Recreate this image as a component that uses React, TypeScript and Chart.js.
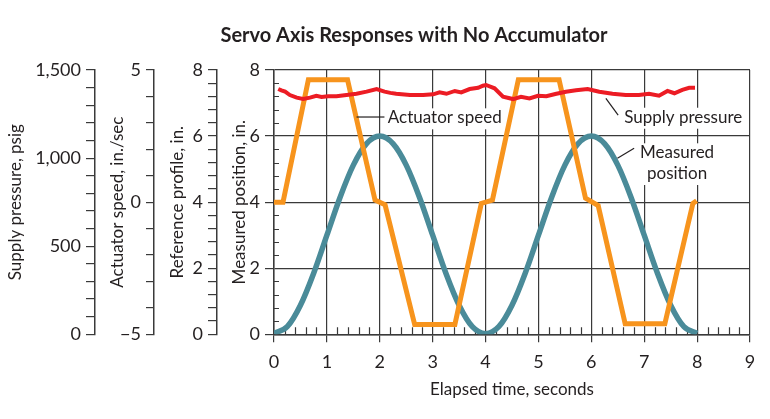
import React, { useEffect, useRef } from 'react';
import { Chart, registerables } from 'chart.js';

Chart.register(...registerables);

// ---------- text ----------
const CHART_TITLE = 'Servo Axis Responses with No Accumulator';
const X_TITLE = 'Elapsed time, seconds';
const SUPPLY_TITLE = 'Supply pressure, psig';
const SPEED_TITLE = 'Actuator speed, in./sec';
const REF_TITLE = 'Reference profile, in.';
const POS_TITLE = 'Measured position, in.';

// ---------- data ----------
// Measured position (in.) vs time (s)
const posTime = [0, 0.25, 0.5, 0.75, 1, 1.25, 1.5, 1.75, 2, 2.25, 2.5, 2.75, 3, 3.25, 3.5, 3.75, 4,
  4.25, 4.5, 4.75, 5, 5.25, 5.5, 5.75, 6, 6.25, 6.5, 6.75, 7, 7.25, 7.5, 7.75, 8];
const posValues = [0.03, 0.23, 0.88, 1.85, 3.0, 4.15, 5.12, 5.77, 6.0, 5.77, 5.12, 4.15, 3.0, 1.85, 0.88, 0.23, 0.02,
  0.23, 0.88, 1.85, 3.0, 4.15, 5.12, 5.77, 6.0, 5.77, 5.12, 4.15, 3.0, 1.85, 0.88, 0.23, 0.03];

// Actuator speed (in./sec) vs time (s)
const speedTime = [0, 0.17, 0.65, 1.39, 1.91, 2.1, 2.66, 3.42, 3.92, 4.13, 4.62, 5.39, 5.89, 6.13, 6.64, 7.39, 7.92, 7.99];
const speedValues = [0, 0, 4.63, 4.63, 0.08, -0.1, -4.63, -4.63, -0.05, 0.08, 4.63, 4.63, 0.15, -0.13, -4.6, -4.6, -0.05, 0.05];

// Supply pressure (psig) vs time (s)
const pressureTime = [0.08, 0.14, 0.21, 0.3, 0.43, 0.55, 0.68, 0.8, 0.9, 1.02, 1.18, 1.37, 1.56, 1.75, 1.94, 2.09, 2.2, 2.31,
  2.57, 2.82, 3.01, 3.13, 3.26, 3.42, 3.54, 3.7, 3.86, 3.95, 4.01, 4.17, 4.33, 4.52, 4.67, 4.83, 4.99, 5.15,
  5.34, 5.52, 5.71, 5.93, 6.15, 6.4, 6.65, 6.9, 7.09, 7.28, 7.44, 7.57, 7.72, 7.85, 7.96];
const pressureValues = [1392, 1384, 1377, 1358, 1343, 1335, 1343, 1354, 1347, 1351, 1351, 1358, 1365, 1377, 1392, 1377, 1370, 1365,
  1358, 1358, 1362, 1373, 1365, 1381, 1373, 1392, 1399, 1411, 1415, 1396, 1348, 1335, 1348, 1339, 1354, 1351,
  1365, 1377, 1385, 1392, 1377, 1365, 1358, 1358, 1365, 1354, 1381, 1368, 1387, 1399, 1399];

// Tick label sets
const xTicks = { min: 0, max: 9, step: 1, minorStep: 0.2 };
const posTicks = { min: 0, max: 8, step: 2, minorStep: 0.4 };
const refTicks = { min: 0, max: 8, step: 0.4, labelEvery: 2 };
const speedTicks = { min: -5, max: 5, step: 1, labels: [-5, 0, 5] };
const supplyTicks = { min: 0, max: 1500, step: 100, labelEvery: 500 };

// Annotations (data units on x / measured-position axis)
const annotationTexts = [['Actuator speed'], ['Supply pressure'], ['Measured', 'position']];
const annotationAnchors = [[2.152, 6.386], [6.621, 6.404], [7.621, 5.327]];
const annotationAligns = ['left', 'left', 'center'];
const leaderLines = [
  [[1.561, 6.577], [2.09, 6.577]],
  [[6.275, 7.143], [6.507, 6.637]],
  [[6.494, 5.327], [6.809, 5.63]],
];

// ---------- styles ----------
const FONT = 'Lato';
const TEXT = '#231f20';
const GRID = '#3a3a3a';
const RED = '#ec1c24';
const ORANGE = '#f7941d';
const TEAL = '#4a8b99';

const decorPlugin = {
  id: 'decor',
  beforeDatasetsDraw(chart: any) {
    const { ctx, chartArea } = chart;
    const xs = chart.scales.x;
    const ys = chart.scales.y;
    ctx.save();
    ctx.strokeStyle = GRID;
    ctx.lineWidth = 1.2;
    ctx.beginPath();
    const nx = Math.round((xTicks.max - xTicks.min) / xTicks.minorStep);
    for (let i = 1; i < nx; i++) {
      if (i % 5 === 0) continue;
      const px = Math.round(xs.getPixelForValue(xTicks.min + i * xTicks.minorStep)) + 0.5;
      ctx.moveTo(px, chartArea.bottom);
      ctx.lineTo(px, chartArea.bottom - 7);
    }
    const ny = Math.round((posTicks.max - posTicks.min) / posTicks.minorStep);
    for (let i = 1; i < ny; i++) {
      if (i % 5 === 0) continue;
      const py = Math.round(ys.getPixelForValue(posTicks.min + i * posTicks.minorStep)) + 0.5;
      ctx.moveTo(chartArea.left, py);
      ctx.lineTo(chartArea.left + 5, py);
    }
    ctx.stroke();
    ctx.restore();
  },
  afterDatasetsDraw(chart: any) {
    const { ctx } = chart;
    const xs = chart.scales.x;
    const ys = chart.scales.y;
    ctx.save();
    ctx.font = `17px ${FONT}`;
    ctx.textBaseline = 'alphabetic';
    // leader lines
    ctx.strokeStyle = TEXT;
    ctx.lineWidth = 1.2;
    leaderLines.forEach((seg) => {
      ctx.beginPath();
      ctx.moveTo(xs.getPixelForValue(seg[0][0]), ys.getPixelForValue(seg[0][1]));
      ctx.lineTo(xs.getPixelForValue(seg[1][0]), ys.getPixelForValue(seg[1][1]));
      ctx.stroke();
    });
    annotationTexts.forEach((lines, k) => {
      const ax = xs.getPixelForValue(annotationAnchors[k][0]);
      const ay = ys.getPixelForValue(annotationAnchors[k][1]);
      const align = annotationAligns[k];
      lines.forEach((line, j) => {
        const w = ctx.measureText(line).width;
        const by = ay + j * 20.7;
        const left = align === 'center' ? ax - w / 2 : ax;
        ctx.fillStyle = '#ffffff';
        ctx.fillRect(left - 3, by - 15, w + 6, 21);
      });
      lines.forEach((line, j) => {
        const w = ctx.measureText(line).width;
        const by = ay + j * 20.7;
        const left = align === 'center' ? ax - w / 2 : ax;
        ctx.fillStyle = TEXT;
        ctx.textAlign = 'left';
        ctx.fillText(line, left, by);
      });
    });
    ctx.restore();
  },
  afterDraw(chart: any) {
    const { ctx } = chart;
    ctx.save();
    ctx.font = `bold 20px ${FONT}`;
    ctx.fillStyle = TEXT;
    ctx.textAlign = 'center';
    ctx.textBaseline = 'alphabetic';
    ctx.fillText(CHART_TITLE, 414, 41.7);
    ctx.restore();
  },
};

function leftAxis(opts: any) {
  return {
    type: 'linear',
    position: 'left',
    weight: opts.weight,
    min: opts.min,
    max: opts.max,
    ticks: {
      stepSize: opts.step,
      autoSkip: false,
      padding: 5,
      color: TEXT,
      font: { family: FONT, size: 18 },
      callback: opts.callback,
    },
    grid: {
      drawOnChartArea: !!opts.onChart,
      color: GRID,
      lineWidth: 1.2,
      tickLength: opts.tickLength,
    },
    border: { display: true, color: GRID, width: 1.5 },
    title: {
      display: true,
      text: opts.title,
      color: TEXT,
      font: { family: FONT, size: 17 },
      padding: { top: opts.titlePad, bottom: 0 },
    },
    afterFit: (s: any) => {
      s.width = opts.width;
    },
  };
}

export default function App() {
  const canvasRef = useRef<HTMLCanvasElement | null>(null);

  useEffect(() => {
    const canvas = canvasRef.current;
    if (!canvas) return;
    const chart = new Chart(canvas, {
      type: 'line',
      data: {
        datasets: [
          {
            label: 'Supply pressure',
            data: pressureTime.map((t, i) => ({ x: t, y: pressureValues[i] })),
            yAxisID: 'ySupply',
            borderColor: RED,
            borderWidth: 4,
            pointRadius: 0,
            tension: 0,
            order: 0,
          },
          {
            label: 'Actuator speed',
            data: speedTime.map((t, i) => ({ x: t, y: speedValues[i] })),
            yAxisID: 'yAct',
            borderColor: ORANGE,
            borderWidth: 5,
            pointRadius: 0,
            tension: 0,
            order: 1,
          },
          {
            label: 'Measured position',
            data: posTime.map((t, i) => ({ x: t, y: posValues[i] })),
            yAxisID: 'y',
            borderColor: TEAL,
            borderWidth: 5.5,
            pointRadius: 0,
            cubicInterpolationMode: 'monotone',
            order: 2,
          },
        ],
      },
      options: {
        responsive: false,
        animation: false,
        devicePixelRatio: 1,
        layout: { padding: { top: 70, right: 20, bottom: 0, left: 0 } },
        plugins: {
          legend: { display: false },
          tooltip: { enabled: false },
          title: { display: false },
        },
        events: [],
        scales: {
          x: {
            type: 'linear',
            position: 'bottom',
            min: xTicks.min,
            max: xTicks.max,
            ticks: {
              stepSize: xTicks.step,
              autoSkip: false,
              maxRotation: 0,
              padding: 9,
              color: TEXT,
              font: { family: FONT, size: 18 },
            },
            grid: { color: GRID, lineWidth: 1.2, tickLength: 8 },
            border: { display: true, color: GRID, width: 1.5 },
            title: {
              display: true,
              text: X_TITLE,
              color: TEXT,
              font: { family: FONT, size: 17 },
              padding: { top: 0, bottom: 19.4 },
            },
            afterFit: (s: any) => {
              s.height = 84.7;
            },
          },
          y: leftAxis({
            weight: 0,
            min: posTicks.min,
            max: posTicks.max,
            step: posTicks.step,
            onChart: true,
            tickLength: 9,
            width: 57,
            titlePad: 12,
            title: POS_TITLE,
            callback: (v: number) => String(v),
          }),
          yRef: leftAxis({
            weight: 1,
            min: refTicks.min,
            max: refTicks.max,
            step: refTicks.step,
            tickLength: 9,
            width: 63,
            titlePad: 13.4,
            title: REF_TITLE,
            callback: (v: number) => {
              const r = Math.round(v * 10) / 10;
              return Math.abs(r % refTicks.labelEvery) < 1e-6 ? String(r) : '';
            },
          }),
          yAct: leftAxis({
            weight: 2,
            min: speedTicks.min,
            max: speedTicks.max,
            step: speedTicks.step,
            tickLength: 8,
            width: 59,
            titlePad: 12.4,
            title: SPEED_TITLE,
            callback: (v: number) =>
              speedTicks.labels.includes(v) ? (v < 0 ? '\u2212' + Math.abs(v) : String(v)) : '',
          }),
          ySupply: leftAxis({
            weight: 3,
            min: supplyTicks.min,
            max: supplyTicks.max,
            step: supplyTicks.step,
            tickLength: 9,
            width: 95,
            titlePad: 5.4,
            title: SUPPLY_TITLE,
            callback: (v: number) =>
              v % supplyTicks.labelEvery === 0 ? v.toLocaleString('en-US') : '',
          }),
        },
      } as any,
      plugins: [decorPlugin],
    });
    return () => chart.destroy();
  }, []);

  return (
    <div style={{ position: 'absolute', left: 0, top: 0, width: 770, height: 419, background: '#fff' }}>
      <canvas ref={canvasRef} width={770} height={419} />
    </div>
  );
}
